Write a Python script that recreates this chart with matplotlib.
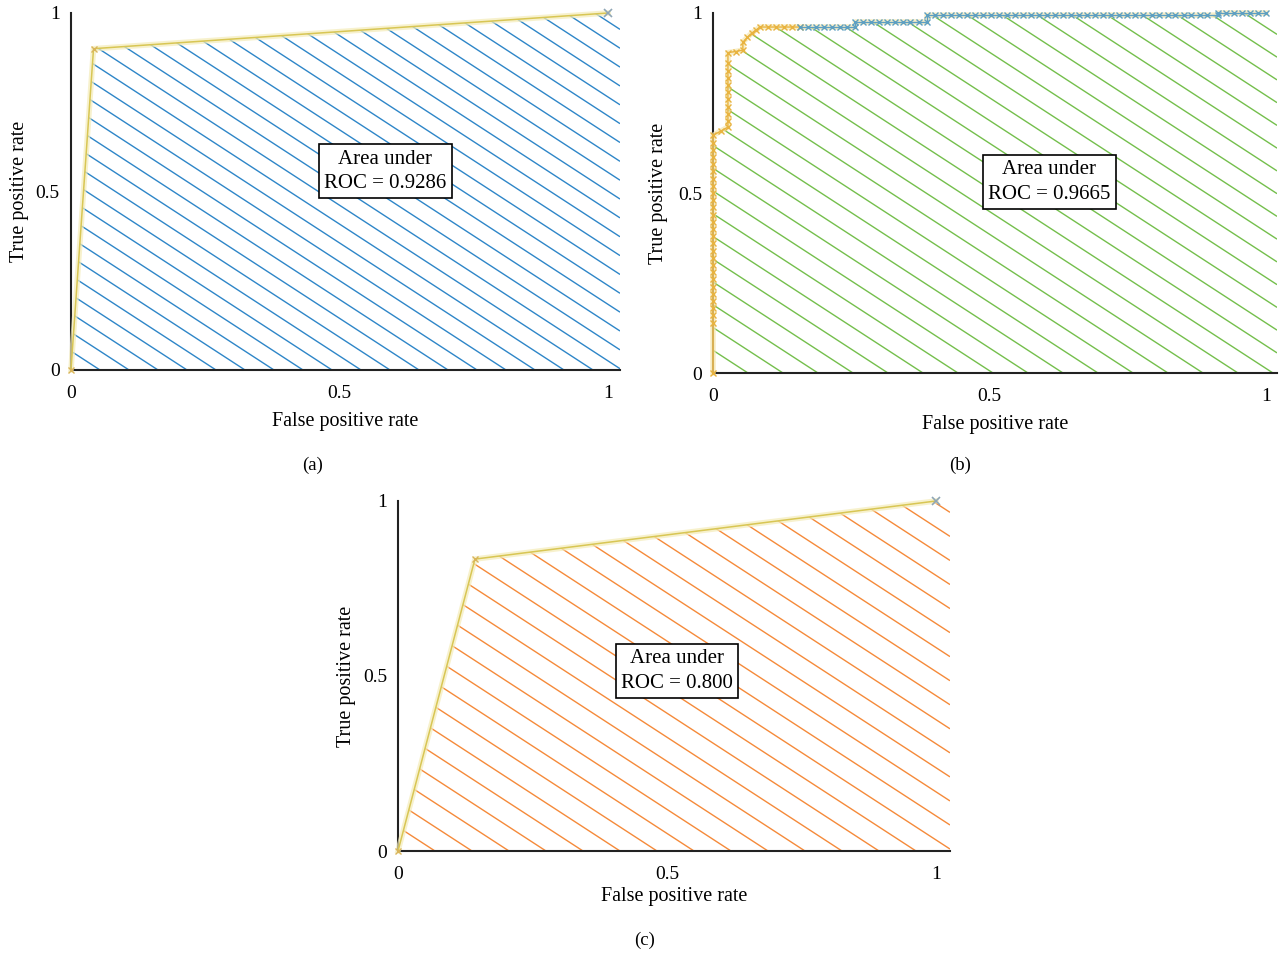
import numpy as np
import matplotlib.pyplot as plt
from matplotlib.collections import LineCollection

plt.rcParams['font.family'] = ['Liberation Serif', 'DejaVu Serif']

# ---- panel (a) ----
fpr_a = [0.0, 0.042, 1.0]
tpr_a = [0.0, 0.900, 1.0]
auc_a = "0.9286"

# ---- panel (b) ----
fpr_b = [
    0.0, 0.0, 0.0, 0.0, 0.0, 0.0, 0.0, 0.0, 0.0, 0.0, 0.0, 0.0, 0.0, 0.0,
    0.0, 0.0, 0.0, 0.0, 0.0, 0.0, 0.0, 0.0, 0.0, 0.0, 0.0, 0.0, 0.0, 0.0,
    0.014, 0.027, 0.027, 0.027, 0.027, 0.027, 0.027, 0.027, 0.027, 0.027, 0.027, 0.027,
    0.041, 0.054, 0.054, 0.062, 0.070, 0.078, 0.085,
    0.099, 0.114, 0.128, 0.143, 0.157, 0.172, 0.186, 0.200, 0.215, 0.229, 0.243, 0.257,
    0.257, 0.271, 0.286, 0.300, 0.314, 0.329, 0.343, 0.357, 0.372, 0.387,
    0.387, 0.401, 0.416, 0.430, 0.445, 0.459, 0.474, 0.488, 0.503, 0.517,
    0.532, 0.546, 0.561, 0.575, 0.590, 0.604, 0.619, 0.633, 0.648, 0.662,
    0.677, 0.691, 0.706, 0.720, 0.735, 0.749, 0.764, 0.778, 0.793, 0.807,
    0.822, 0.836, 0.851, 0.865, 0.880, 0.894, 0.913,
    0.913, 0.928, 0.942, 0.957, 0.971, 0.986, 1.0,
]
tpr_b = [
    0.0, 0.14, 0.16, 0.18, 0.20, 0.22, 0.24, 0.26, 0.28, 0.30, 0.32, 0.34, 0.36, 0.38,
    0.40, 0.42, 0.44, 0.46, 0.48, 0.50, 0.52, 0.54, 0.56, 0.58, 0.60, 0.62, 0.64, 0.66,
    0.672, 0.683, 0.70, 0.72, 0.74, 0.76, 0.78, 0.80, 0.82, 0.84, 0.86, 0.89,
    0.893, 0.897, 0.919, 0.932, 0.944, 0.953, 0.961,
    0.961, 0.961, 0.961, 0.961, 0.961, 0.961, 0.961, 0.961, 0.961, 0.961, 0.961, 0.961,
    0.975, 0.975, 0.975, 0.975, 0.975, 0.975, 0.975, 0.975, 0.975, 0.975,
    0.994, 0.994, 0.994, 0.994, 0.994, 0.994, 0.994, 0.994, 0.994, 0.994,
    0.994, 0.994, 0.994, 0.994, 0.994, 0.994, 0.994, 0.994, 0.994, 0.994,
    0.994, 0.994, 0.994, 0.994, 0.994, 0.994, 0.994, 0.994, 0.994, 0.994,
    0.994, 0.994, 0.994, 0.994, 0.994, 0.994, 0.994,
    1.0, 1.0, 1.0, 1.0, 1.0, 1.0, 1.0,
]
auc_b = "0.9665"

# ---- panel (c) ----
fpr_c = [0.0, 0.143, 1.0]
tpr_c = [0.0, 0.834, 1.0]
auc_c = "0.800"

fig = plt.figure(figsize=(12.81, 9.55), dpi=100)

ax_a = fig.add_axes([0.0554, 0.6126, 0.4286, 0.3738])
ax_b = fig.add_axes([0.5566, 0.6094, 0.4403, 0.3770])
ax_c = fig.add_axes([0.3107, 0.1089, 0.4309, 0.3665])


def add_hatch(ax, x, y, xmax, color, step_px, slope_px=0.65):
    # diagonal hatch lines, clipped to the area under the curve
    xs = np.r_[x, xmax]
    ys = np.r_[y, y[-1]]
    poly = ax.fill_between(xs, ys, 0, facecolor='none', edgecolor='none')
    bb = ax.get_window_extent()
    w, h = bb.width, bb.height
    segs = []
    c = 0.0
    while c < h + slope_px * w:
        segs.append([(0, c / h), (1, (c - slope_px * w) / h)])
        c += step_px * slope_px
    lc = LineCollection(segs, colors=color, linewidths=1.0, transform=ax.transAxes)
    ax.add_collection(lc, autolim=False)
    lc.set_clip_path(poly.get_paths()[0], ax.transData)


def style_axes(ax, xmax, xlabelpad, ylabelpad):
    ax.set_xlim(0, xmax)
    ax.set_ylim(0, 1)
    for s in ['top', 'right']:
        ax.spines[s].set_visible(False)
    for s in ['left', 'bottom']:
        ax.spines[s].set_linewidth(1.5)
        ax.spines[s].set_color('#222222')
    ax.set_xticks([0, 0.5, 1])
    ax.set_xticklabels(['0', '0.5', '1'])
    ax.set_yticks([0, 0.5, 1])
    ax.set_yticklabels(['0', '0.5', '1'])
    ax.tick_params(axis='x', length=0, pad=11, labelsize=14)
    ax.tick_params(axis='y', length=0, pad=8, labelsize=14)
    ax.set_xlabel('False positive rate', fontsize=14.5, labelpad=xlabelpad)
    ax.set_ylabel('True positive rate', fontsize=14.5, labelpad=ylabelpad)
    ax.patch.set_alpha(0)


def roc_line(ax, x, y):
    ax.plot(x, y, color='#F4ECB8', lw=4, alpha=0.7, zorder=3, clip_on=False)
    ax.plot(x, y, color='#D8C654', lw=1.1, zorder=4, clip_on=False)
    ax.plot(x[:-1], y[:-1], 'x', color='#D9B45A', ms=5, mew=1, zorder=5, clip_on=False)
    ax.plot(x[-1:], y[-1:], 'x', color='#8FA6B6', ms=6, mew=1.2, zorder=5, clip_on=False)


def auc_box(ax, x, y, auc):
    ax.text(x, y, 'Area under\nROC = ' + auc, ha='center', va='center',
            fontsize=15, linespacing=1.4, zorder=6,
            bbox=dict(boxstyle='square,pad=0.25', fc='white', ec='black', lw=1.2))


# (a)
add_hatch(ax_a, fpr_a, tpr_a, 1.022, '#2E86C8', 29)
roc_line(ax_a, fpr_a, tpr_a)
style_axes(ax_a, 1.022, 7, 5)
auc_box(ax_a, 0.585, 0.556, auc_a)

# (b)
fb = np.array(fpr_b)
tb = np.array(tpr_b)
split = np.searchsorted(fb, 0.15)
add_hatch(ax_b, fb, tb, 1.02, '#74BF4C', 35)
ax_b.plot(fb, tb, color='#F6E7B0', lw=4, alpha=0.7, zorder=3, clip_on=False)
ax_b.plot(fb[:split + 1], tb[:split + 1], '-x', color='#E8B340', lw=1.0,
          ms=5, mew=1, zorder=4, clip_on=False)
ax_b.plot(fb[split:], tb[split:], '-x', color='#5D9FC2', lw=1.0,
          ms=5, mew=1, zorder=4, clip_on=False)
style_axes(ax_b, 1.02, 7, 7)
auc_box(ax_b, 0.608, 0.53, auc_b)

# (c)
add_hatch(ax_c, fpr_c, tpr_c, 1.026, '#F58A3A', 37)
roc_line(ax_c, fpr_c, tpr_c)
style_axes(ax_c, 1.026, 3, 5)
auc_box(ax_c, 0.519, 0.514, auc_c)

fig.text(313 / 1281, 1 - 465 / 955, '(a)', ha='center', va='center', fontsize=13.5)
fig.text(960 / 1281, 1 - 465 / 955, '(b)', ha='center', va='center', fontsize=13.5)
fig.text(645 / 1281, 1 - 940 / 955, '(c)', ha='center', va='center', fontsize=13.5)

fig.savefig('out.png', dpi=100)
